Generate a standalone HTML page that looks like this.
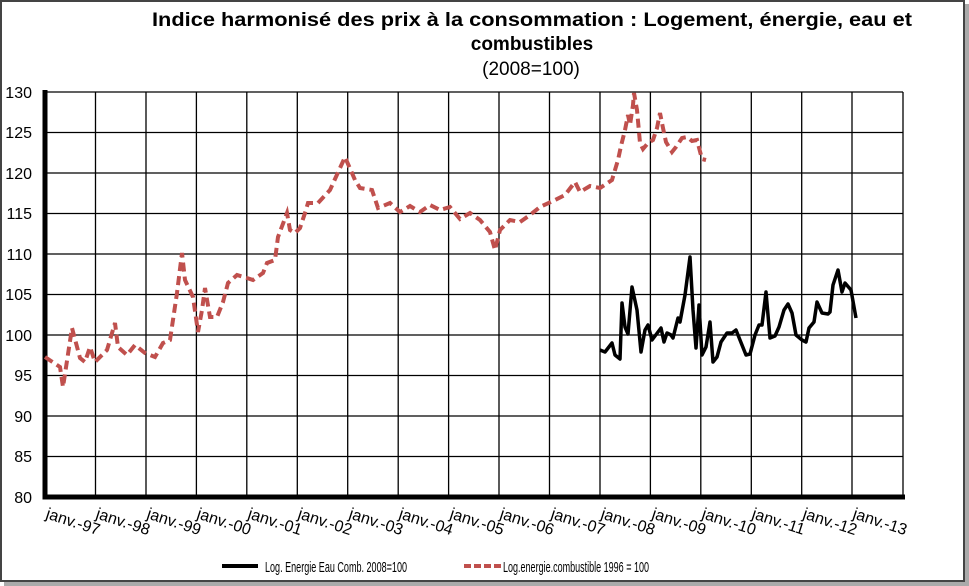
<!DOCTYPE html>
<html><head><meta charset="utf-8"><style>body{margin:0;background:#fff}svg{display:block}</style></head><body>
<svg width="969" height="586" xmlns="http://www.w3.org/2000/svg" font-family="Liberation Sans, sans-serif">
<rect x="0" y="0" width="969" height="586" fill="#fff"/>
<rect x="1" y="1" width="963" height="580" fill="none" stroke="#444" stroke-width="2"/>
<rect x="965" y="4" width="4" height="582" fill="#aaa"/><rect x="4" y="582" width="965" height="4" fill="#aaa"/>
<g font-weight="bold" font-size="19" text-anchor="middle">
<text x="532" y="26" textLength="760" lengthAdjust="spacingAndGlyphs">Indice harmonisé des prix à la consommation : Logement, énergie, eau et</text>
<text x="532" y="50">combustibles</text></g>
<text x="531" y="75" font-size="19" text-anchor="middle">(2008=100)</text>
<g stroke="#000" stroke-width="1.3">
<path d="M45 92H903M45 132.5H903M45 173H903M45 213.5H903M45 254H903M45 294.5H903M45 335H903M45 375.5H903M45 416H903M45 456.5H903"/>
<path d="M95.5 92V497M146 92V497M196.4 92V497M246.8 92V497M297.3 92V497M347.7 92V497M398.2 92V497M448.6 92V497M499 92V497M549.5 92V497M600 92V497M650.4 92V497M700.8 92V497M751.3 92V497M801.7 92V497M852 92V497M903 92V497"/>
</g>
<path d="M45 90V497H905" fill="none" stroke="#000" stroke-width="5"/>
<g font-size="16" text-anchor="end">
<text x="32" y="98">130</text><text x="32" y="138">125</text><text x="32" y="179">120</text><text x="32" y="219">115</text><text x="32" y="260">110</text><text x="32" y="300">105</text><text x="32" y="341">100</text><text x="32" y="381">95</text><text x="32" y="422">90</text><text x="32" y="462">85</text><text x="32" y="503">80</text>
</g>
<g font-size="16">
<text transform="translate(45,518) rotate(18)">janv.-97</text>
<text transform="translate(95,518) rotate(18)">janv.-98</text>
<text transform="translate(146,518) rotate(18)">janv.-99</text>
<text transform="translate(196,518) rotate(18)">janv.-00</text>
<text transform="translate(247,518) rotate(18)">janv.-01</text>
<text transform="translate(297,518) rotate(18)">janv.-02</text>
<text transform="translate(348,518) rotate(18)">janv.-03</text>
<text transform="translate(398,518) rotate(18)">janv.-04</text>
<text transform="translate(449,518) rotate(18)">janv.-05</text>
<text transform="translate(499,518) rotate(18)">janv.-06</text>
<text transform="translate(550,518) rotate(18)">janv.-07</text>
<text transform="translate(600,518) rotate(18)">janv.-08</text>
<text transform="translate(651,518) rotate(18)">janv.-09</text>
<text transform="translate(701,518) rotate(18)">janv.-10</text>
<text transform="translate(751,518) rotate(18)">janv.-11</text>
<text transform="translate(802,518) rotate(18)">janv.-12</text>
<text transform="translate(852,518) rotate(18)">janv.-13</text>
</g>
<polyline fill="none" stroke="#c0504d" stroke-width="4" stroke-dasharray="9,5" points="45,357 60,367 63,387 72,328 80,358 85,362 90,347 95,362 107,350 115,323 118,347 127,355 135,345 145,353 155,357 163,343 170,340 177,293 182,253 185,280 193,297 198,332 202,310 205,288 210,317 217,317 223,302 228,283 237,275 247,278 253,280 263,273 267,263 275,260 278,237 287,213 290,230 295,233 300,228 305,213 308,203 318,203 330,190 345,157 355,180 360,188 372,190 378,208 390,203 400,212 410,206 420,212 430,205 440,210 450,207 460,219 470,213 480,220 490,232 495,250 500,230 510,220 520,222 530,215 540,207 555,200 565,195 575,182 580,192 590,186 600,188 612,180 618,160 621,146 625,130 628,115 630,125 633,105 634,93 637,110 640,143 643,149 648,143 653,140 657,128 660,113 663,128 666,142 672,152 676,147 682,138 687,137 692,141 697,140 702,159 706,160"/>
<polyline fill="none" stroke="#000" stroke-width="3.5" stroke-linejoin="round" points="600,350 605,352 612,343 615,355 620,359 622,303 625,327 628,334 632,287 637,310 641,352 645,330 648,325 652,340 658,332 661,328 664,342 667,333 671,335 673,338 678,318 680,322 685,295 690,257 693,310 696,348 699,305 702,355 706,347 710,322 713,362 717,357 721,342 727,333 732,333 736,330 740,340 746,355 750,354 755,335 759,325 762,325 766,292 770,338 775,336 779,327 784,310 788,304 792,313 796,335 802,340 806,342 809,328 814,322 817,302 822,313 828,314 830,312 833,285 838,270 842,292 845,283 851,290 856,318"/>
<line x1="222" y1="566" x2="258" y2="566" stroke="#000" stroke-width="4"/>
<text x="265" y="572" font-size="15" textLength="142" lengthAdjust="spacingAndGlyphs">Log. Energie Eau Comb. 2008=100</text>
<line x1="464" y1="566" x2="501" y2="566" stroke="#c0504d" stroke-width="4" stroke-dasharray="7,3"/>
<text x="503" y="572" font-size="15" textLength="146" lengthAdjust="spacingAndGlyphs">Log.energie.combustible 1996 = 100</text>
</svg>
</body></html>
